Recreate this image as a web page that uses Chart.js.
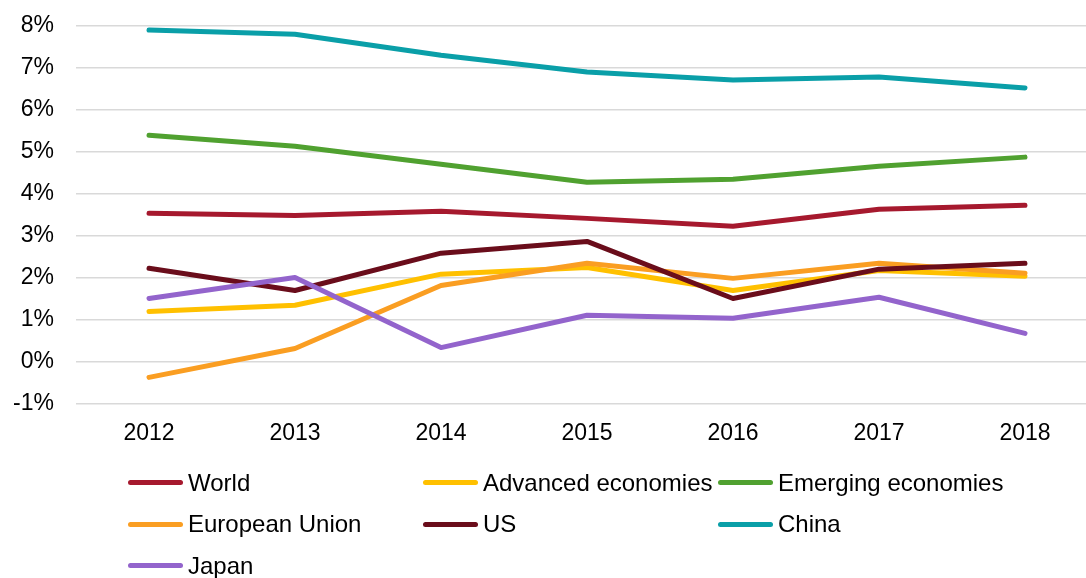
<!DOCTYPE html>
<html>
<head>
<meta charset="utf-8">
<script src="https://cdn.jsdelivr.net/npm/chart.js@4"></script>
<style>
    html, body { margin: 0; padding: 0; background: #fff; overflow: hidden; }
    body { width: 1086px; height: 578px; position: relative; font-family: "Liberation Sans", Arial, sans-serif; }
    #wrap { position: absolute; left: 0; top: -10px; width: 1100px; height: 477px; }
    #legend {
        position: absolute; left: 128px; top: 462px;
        display: grid; grid-template-columns: 295px 295px 295px; grid-auto-rows: 41.5px;
    }
    .item { display: flex; align-items: center; font-size: 24px; color: #000; white-space: nowrap; }
    .swatch { width: 55px; height: 5px; border-radius: 3px; margin-right: 5px; }
</style>
</head>
<body>
<div id="wrap"><canvas id="chart" width="1100" height="477"></canvas></div>
<div id="legend"></div>
<script>
// Real GDP growth, % per year
const years = ["2012", "2013", "2014", "2015", "2016", "2017", "2018"];

const world     = [3.53, 3.48, 3.58, 3.41, 3.22, 3.63, 3.72];
const advanced  = [1.19, 1.34, 2.08, 2.24, 1.69, 2.17, 2.03];
const emerging  = [5.39, 5.13, 4.70, 4.27, 4.34, 4.65, 4.87];
const eu        = [-0.38, 0.31, 1.81, 2.34, 1.98, 2.34, 2.10];
const us        = [2.22, 1.69, 2.58, 2.86, 1.50, 2.20, 2.34];
const china     = [7.90, 7.80, 7.30, 6.90, 6.71, 6.78, 6.52];
const japan     = [1.50, 2.00, 0.33, 1.10, 1.03, 1.53, 0.67];

const seriesNames = ["World", "Advanced economies", "Emerging economies", "European Union", "US", "China", "Japan"];
const seriesData = [world, advanced, emerging, eu, us, china, japan];
const seriesColors = ["#A6192E", "#FFC000", "#50A130", "#FA9E22", "#6A0D1B", "#0A9FA8", "#9364CC"];

const yTicks = [-1, 0, 1, 2, 3, 4, 5, 6, 7, 8];

const datasets = seriesNames.map((name, i) => ({
    label: name,
    data: seriesData[i],
    borderColor: seriesColors[i],
    backgroundColor: seriesColors[i],
    borderWidth: 5,
    borderCapStyle: "round",
    borderJoinStyle: "round",
    pointRadius: 0,
    tension: 0,
    fill: false,
    // later series drawn on top, like the original
    order: -i,
}));

const tickFont = { family: "'Liberation Sans', Arial, sans-serif", size: 23 };

const chart = new Chart(document.getElementById("chart"), {
    type: "line",
    data: { labels: years, datasets: datasets },
    options: {
        responsive: false,
        animation: false,
        devicePixelRatio: 1,
        layout: { padding: { top: 15, right: 2, bottom: 4, left: 0 } },
        plugins: {
            legend: { display: false },
            tooltip: { enabled: false },
        },
        scales: {
            x: {
                offset: true,
                grid: { display: false, drawTicks: false },
                border: { display: false },
                ticks: { color: "#000", font: tickFont, padding: 16, maxRotation: 0 },
            },
            y: {
                min: yTicks[0],
                max: yTicks[yTicks.length - 1],
                afterBuildTicks: (axis) => {
                    axis.ticks = yTicks.map((v) => ({ value: v }));
                },
                afterFit: (axis) => {
                    axis.width = 76;
                },
                grid: { color: "#D9D9D9", lineWidth: 1.5, drawTicks: false },
                border: { display: false },
                ticks: {
                    color: "#000",
                    font: tickFont,
                    padding: 22,
                    callback: (v) => v + "%",
                },
            },
        },
    },
});

// custom legend laid out in three columns
const legend = document.getElementById("legend");
chart.data.datasets.forEach((ds) => {
    const item = document.createElement("div");
    item.className = "item";
    const sw = document.createElement("span");
    sw.className = "swatch";
    sw.style.background = ds.borderColor;
    item.appendChild(sw);
    item.appendChild(document.createTextNode(ds.label));
    legend.appendChild(item);
});
</script>
</body>
</html>
